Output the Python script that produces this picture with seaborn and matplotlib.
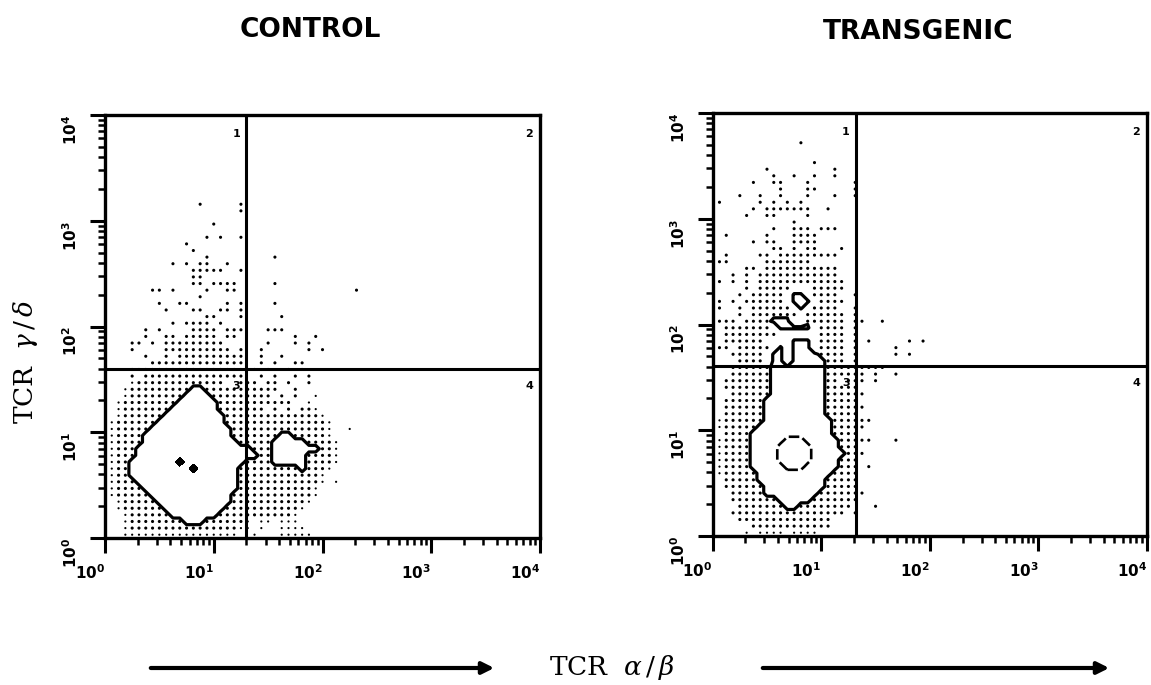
import numpy as np
import pandas as pd
import matplotlib
matplotlib.use("Agg")
import matplotlib.pyplot as plt
import seaborn as sns
from matplotlib.ticker import LogLocator, FuncFormatter, NullFormatter
from matplotlib.patches import FancyArrowPatch

# ---------------- data ----------------
panel_titles = ["CONTROL", "TRANSGENIC"]
gate_x = [19.8, 20.7]          # TCR alpha/beta quadrant gate
gate_y = [39.3, 40.8]          # TCR gamma/delta quadrant gate
quadrant_names = ["1", "2", "3", "4"]
x_label = r"TCR  $\alpha\,/\,\beta$"
y_label = r"TCR  $\gamma\,/\,\delta$"
channels_per_decade = 16       # 64 channels over 4 decades

# channel density maps (top row = highest channel)
# ' ' empty, '.' 1 event, 'o' several events, '#' dense (inside outer contour), '@' densest
control_map = [
    "              o     o",
    "                    o",
    "",
    "                o",
    "",
    "               o o  o",
    "            o",
    "             o",
    "               o         o",
    "          o o oo  o",
    "             ooooo  o",
    "             oo",
    "             oo oooo     o",
    "       oo o    o  oo                 o",
    "              o",
    "        o  oo     o o    o",
    "         o   oo  oo o",
    "               oo   o     o",
    "          o oooo o",
    "      o o    oooo ooo   ooo",
    "      o  oo ooooo oo        o  o",
    "    oo o ooooooooo      o   o o",
    "    o    oooooooooo o  o      o o",
    "      o  o oooooooooo  o  o",
    "       oooooooooooooo  o o  oo",
    "    ooooooooooooooooo o o  o o",
    "    o ooooooooooooooo  o o  o o",
    "    .ooooooooooooo  ooo oo o  o",
    "   .ooooooooo##ooooooooooo  o",
    "   .oooooooo####ooooooooo o o  .",
    "  .oooooooo######ooooooooooo  .",
    "  .ooooooo#######ooooooo o o oo.",
    "  .oooooo#########oooooooooooooo.",
    " .oooooo##########ooooooooooooooo.",
    " .ooooo############oooooooooooooo.  .",
    " .oooo#############ooooooo##ooooo.",
    " .oooo##############ooooo#####oooo.",
    " .ooo#################ooo#######oo.",
    " .ooo##################oo#####oooo.",
    " .oo#######@#########oooo#####oooo.",
    " .oo#########@######ooooooooo#ooo.",
    " .oo################oooooooooooo.",
    " .ooo###############oooooooooooo. .",
    " .oooo##############ooooooooooo.",
    " .ooooo############oooooooooooo.",
    "  .ooooo###########ooooooooooo.",
    "  .oooooo#########ooooooooooo.",
    "   .oooooo#######ooooooooooo.",
    "   .oooooooo###oooooo. .. ...",
    "   .oooooooooooooooo.. .  ....",
    "   .................  .   .....",
]

transgenic_map = [
    "             o",
    "",
    "",
    "               o",
    "        o         o",
    "         o  o  o  o",
    "      o  oo   o      o",
    "          o   oo     o",
    "    o  o  o   o   o  o",
    " o     o o o o",
    "      o ooooooo  o",
    "     o  oo    o",
    "            o",
    "         o  ooo ooo",
    "  o     o   oooo",
    "      o oo  oooo",
    "         oo o oo   o",
    "  o    oo ooooooooo",
    " oo     ooooooo",
    "     oo ooooooooooo",
    "   o o oooooooooooo",
    " o o o ooooooooooooo",
    "     o ooooo   ooooo",
    "    o ooooo ## oooo  o",
    " o o oooooo ### oooo",
    " o  o oooooo # oooo  o",
    "    o ooooooo oooooo o",
    " ooo oooo###  oooooo oo  o",
    "  ooooooo ##### oooo o",
    "  oooooooo      oooo o",
    "  oooooo    ### oooo o o     o o",
    " oo ooooo # ### oooo o     o",
    "   ooooo ## ####oooo o     o o",
    "    oooo ## #####ooo o",
    "   oooooo########ooooooooo",
    "   oooooo########oooooo o  o",
    "  ooooooo########oo ooo o",
    "  ooooooo########ooooo",
    "   oooooo########oooooo",
    "  oooooo#########ooooo",
    "  oooooo#########oooooo",
    "  oooooo#########ooooo",
    " .oooooo##########oooooo",
    " .ooooo###########ooooo",
    "  oooo############oooo",
    " .oooo#####@@@#####ooooo   o",
    " .oooo####@@@@@####ooo",
    " .oooo####@@@@@#####ooo",
    " .oooo####@@@@@####ooo",
    " .oooo#####@@@#####ooo o",
    " .ooooo###########oooo",
    "  ooooo##########ooooo",
    "  oooooo#########ooooo",
    "   ooooo########ooooooo",
    "   ooooooo#####ooooooo",
    "    ooooooo##oooooooo   o",
    "   ooooooooooooooooo o",
    "    oooooooooooooo",
    "      oooooooooooo",
    "     . .... ....",
]

panel_maps = [control_map, transgenic_map]
level_of = {" ": 0, ".": 1, "o": 2, "#": 3, "@": 4}


def decode(rows):
    n = len(rows)
    width = max(len(r) for r in rows) + 2
    grid = np.zeros((n + 2, width + 1))
    pts = []
    for idx, row in enumerate(rows):
        k = n - 1 - idx
        for c, ch in enumerate(row):
            v = level_of[ch]
            grid[k + 1, c + 1] = v
            if v in (1, 2):
                pts.append((10 ** (c / channels_per_decade),
                            10 ** ((k + 0.5) / channels_per_decade), v))
    gx = 10 ** ((np.arange(width + 1) - 1) / channels_per_decade)
    gy = 10 ** ((np.arange(n + 2) - 1 + 0.5) / channels_per_decade)
    return pd.DataFrame(pts, columns=["x", "y", "level"]), gx, gy, grid


# ---------------- style ----------------
sns.set_style("white")
plt.rcParams["font.family"] = ["DejaVu Sans"]
plt.rcParams["mathtext.fontset"] = "dejavusans"
for key in ["text.color", "axes.labelcolor", "xtick.color", "ytick.color", "axes.edgecolor"]:
    plt.rcParams[key] = "black"

W, H = 1151, 685
fig = plt.figure(figsize=(W / 100, H / 100), dpi=100)
axes_rects = [[0.0912, 0.2146, 0.378, 0.6175], [0.6192, 0.2175, 0.3773, 0.6175]]
title_px = [(310, 30), (918, 32)]
inner_filled = [True, False]

tick_fmt = FuncFormatter(lambda v, p: r"$\mathbf{10^{%d}}$" % int(round(np.log10(v))))

for i in range(2):
    ax = fig.add_axes(axes_rects[i])
    df, gx, gy, grid = decode(panel_maps[i])
    sns.scatterplot(data=df, x="x", y="y", size="level", sizes={1: 2.5, 2: 5.0},
                    color="black", linewidth=0, legend=False, ax=ax, zorder=2)
    ax.contour(gx, gy, grid, levels=[2.5], colors="black", linewidths=2.3, zorder=3)
    if inner_filled[i]:
        ax.contourf(gx, gy, grid, levels=[3.35, 10], colors="black", zorder=3)
    else:
        ax.contour(gx, gy, grid, levels=[3.5], colors="black", linewidths=1.9,
                   linestyles=[(0, (4, 1.4))], zorder=3)
    ax.axvline(gate_x[i], color="black", lw=2.2, zorder=4)
    ax.axhline(gate_y[i], color="black", lw=2.2, zorder=4)

    ax.set_xscale("log")
    ax.set_yscale("log")
    ax.set_xlim(1, 1e4)
    ax.set_ylim(1, 1e4)
    ax.set_xlabel("")
    ax.set_ylabel("")
    for axis in (ax.xaxis, ax.yaxis):
        axis.set_major_locator(LogLocator(base=10, numticks=10))
        axis.set_minor_locator(LogLocator(base=10, subs=np.arange(2, 10), numticks=20))
        axis.set_major_formatter(tick_fmt)
        axis.set_minor_formatter(NullFormatter())
    ax.tick_params(which="major", direction="out", length=11, width=2.2,
                   labelsize=11, pad=7, color="black", bottom=True, left=True)
    ax.tick_params(which="minor", direction="out", length=5, width=1.8,
                   color="black", bottom=True, left=True)
    ax.tick_params(axis="y", which="major", labelrotation=90)
    fig.canvas.draw()
    for lab in ax.get_yticklabels():
        lab.set_va("top")
    for lab in ax.get_xticklabels():
        lab.set_ha("right")
    for sp in ax.spines.values():
        sp.set_linewidth(2.4)
        sp.set_color("black")

    gxa = np.log10(gate_x[i]) / 4
    gya = np.log10(gate_y[i]) / 4
    qpos = [(gxa - 0.022, 0.955), (0.975, 0.955), (gxa - 0.022, gya - 0.04), (0.975, gya - 0.04)]
    for name, (qx, qy) in zip(quadrant_names, qpos):
        ax.text(qx, qy, name, transform=ax.transAxes, fontsize=8, fontweight="bold",
                ha="center", va="center", zorder=5)

    tx, ty = title_px[i]
    fig.text(tx / W, 1 - ty / H, panel_titles[i], fontsize=19, fontweight="bold",
             ha="center", va="center")

fig.text(612 / W, 1 - 667 / H, x_label, fontsize=19, family="DejaVu Serif",
         math_fontfamily="dejavuserif", ha="center", va="center")
fig.text(25 / W, 1 - 362 / H, y_label, fontsize=19, family="DejaVu Serif",
         math_fontfamily="dejavuserif", ha="center", va="center", rotation=90)

for x0, x1 in [(148, 497), (760, 1112)]:
    arr = FancyArrowPatch((x0 / W, 1 - 668 / H), (x1 / W, 1 - 668 / H),
                          transform=fig.transFigure, arrowstyle="-|>,head_length=0.5,head_width=0.25",
                          mutation_scale=14, lw=3, color="black")
    fig.add_artist(arr)

fig.savefig("out.png", dpi=100)
